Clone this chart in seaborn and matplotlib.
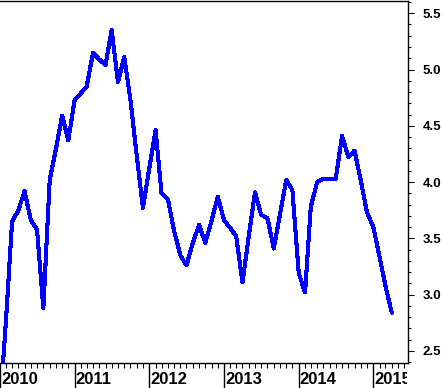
import numpy as np
import pandas as pd
import matplotlib
matplotlib.use("Agg")
import matplotlib.pyplot as plt
import matplotlib.dates as mdates
import matplotlib.ticker as mticker
import matplotlib.transforms as mtrans
import seaborn as sns

# ---- data (monthly, Jan 2010 .. Apr 2015) ----
months = pd.date_range("2010-01-01", periods=64, freq="MS")
values = [2.00, 2.82, 3.65, 3.75, 3.92, 3.66, 3.58, 2.88, 4.02, 4.29,
          4.59, 4.37, 4.73, 4.79, 4.85, 5.15, 5.09, 5.04, 5.35, 4.89,
          5.11, 4.73, 4.23, 3.77, 4.12, 4.46, 3.90, 3.85, 3.57, 3.35,
          3.26, 3.46, 3.62, 3.46, 3.66, 3.87, 3.66, 3.59, 3.52, 3.11,
          3.51, 3.91, 3.71, 3.68, 3.41, 3.71, 4.02, 3.93, 3.19, 3.02,
          3.78, 4.00, 4.03, 4.03, 4.03, 4.41, 4.22, 4.28, 4.01, 3.73,
          3.60, 3.33, 3.08, 2.84]
year_labels = ["2010", "2011", "2012", "2013", "2014", "2015"]
y_ticks = [2.5, 3.0, 3.5, 4.0, 4.5, 5.0, 5.5]
y_tick_labels = ["2.5", "3.0", "3.5", "4.0", "4.5", "5.0", "5.5"]

sns.set_theme(style="white")
plt.rcParams["font.family"] = ["Liberation Sans", "DejaVu Sans"]

W, H = 443, 388
fig = plt.figure(figsize=(W / 100, H / 100), dpi=100)
ax = fig.add_axes([0, 25 / H, 407.7 / W, 362.5 / H])

df = pd.DataFrame({"date": months, "value": values})
sns.lineplot(data=df, x="date", y="value", ax=ax, color="#0000FF",
             linewidth=2.2, antialiased=False)

ax.set_xlim(pd.Timestamp("2010-01-16"), pd.Timestamp("2015-06-18"))
ax.set_ylim(2.393, 5.613)
ax.set_xlabel("")
ax.set_ylabel("")

# spines
for s in ["top", "right", "bottom"]:
    ax.spines[s].set_visible(True)
    ax.spines[s].set_color("black")
    ax.spines[s].set_linewidth(1.0)
ax.spines["left"].set_visible(False)

# x ticks
year_pos = [pd.Timestamp(f"{y}-01-01") for y in year_labels]
ax.set_xticks(year_pos)
ax.set_xticklabels(year_labels, ha="left", fontweight="bold", fontsize=12,
                   color="black")
ax.xaxis.set_minor_locator(mdates.MonthLocator())
ax.tick_params(axis="x", which="major", direction="out", length=18, width=1.0,
               color="black", pad=-11.5, bottom=True)
ax.tick_params(axis="x", which="minor", direction="out", length=3.6, width=0.8,
               color="black", bottom=True)
offset = mtrans.ScaledTranslation(1 / 100, 0, fig.dpi_scale_trans)
clip_box = mtrans.Bbox.from_extents(0, 0, 407.0, H)
for tick in ax.xaxis.get_major_ticks():
    lbl = tick.label1
    lbl.set_transform(lbl.get_transform() + offset)
    lbl.set_clip_box(clip_box)
    lbl.set_clip_on(True)

# y ticks on right
ax.yaxis.tick_right()
ax.set_yticks(y_ticks)
ax.set_yticklabels(y_tick_labels, fontweight="bold", fontsize=9.5, color="black")
ax.yaxis.set_minor_locator(mticker.MultipleLocator(0.1))
ax.tick_params(axis="y", which="major", direction="out", length=4.3, width=0.8,
               color="black", pad=6.3, right=True, left=False)
ax.tick_params(axis="y", which="minor", direction="out", length=1.9, width=0.8,
               color="black", right=True, left=False)
ax.grid(False)

fig.savefig("out.png", dpi=100)
